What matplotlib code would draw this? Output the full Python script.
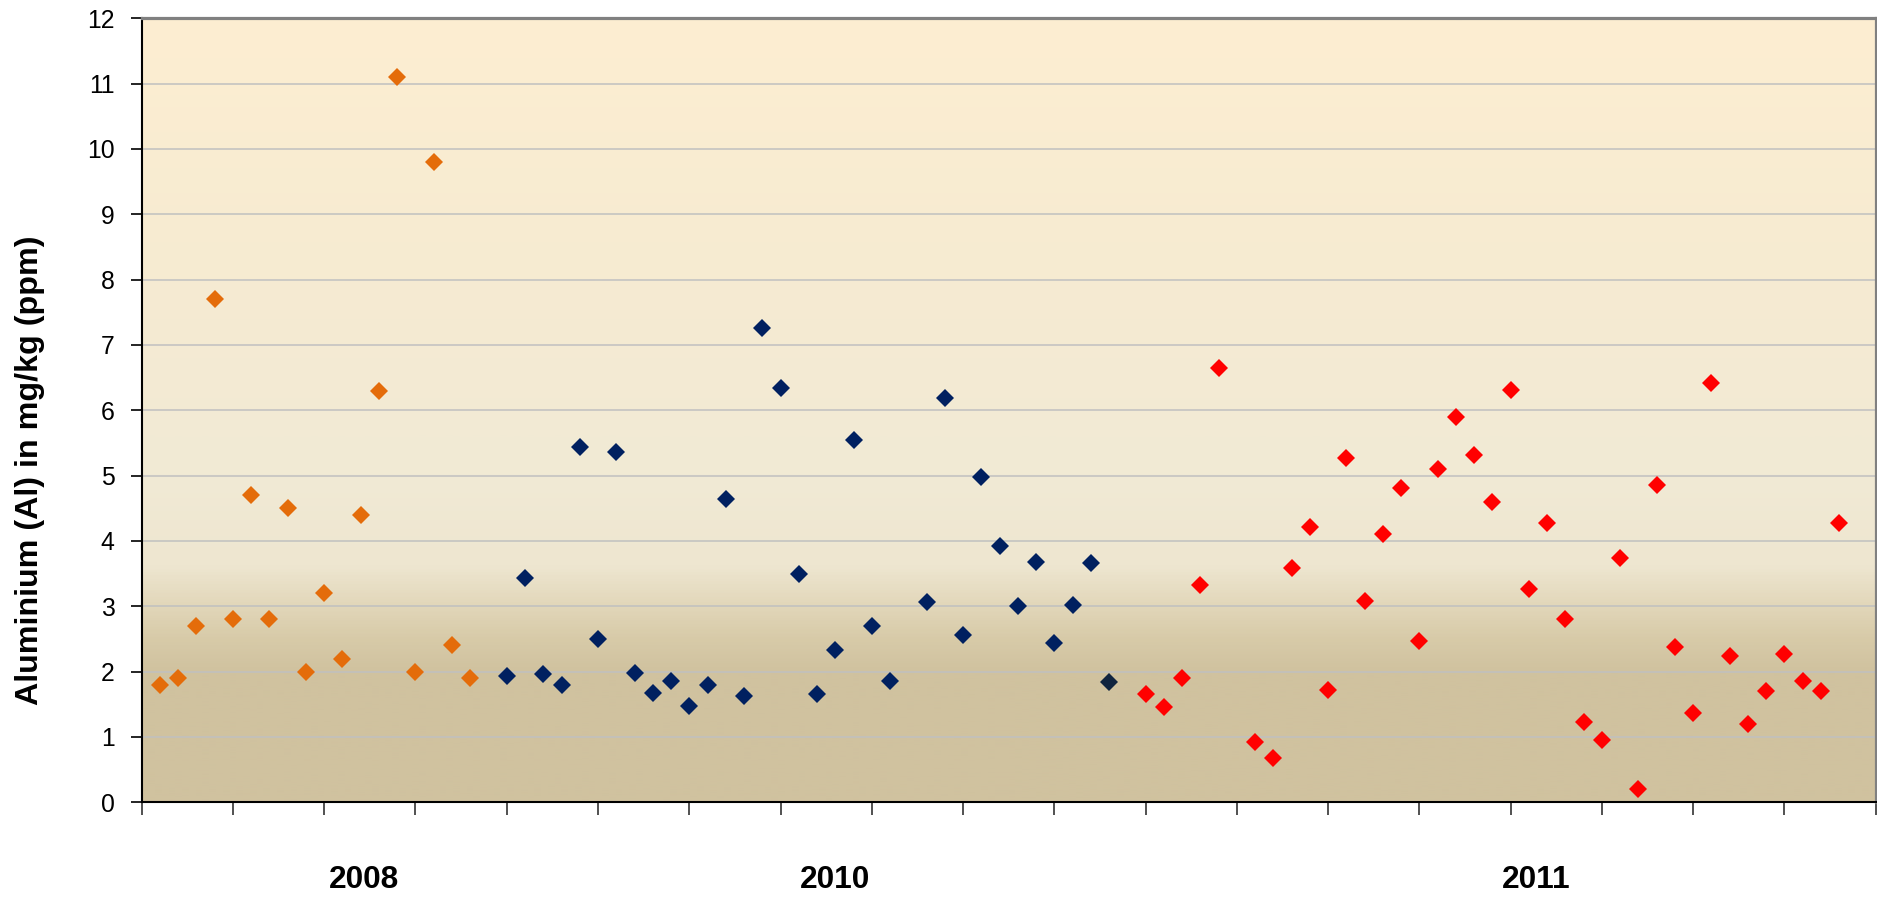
import numpy as np
import matplotlib
matplotlib.use("Agg")
import matplotlib.pyplot as plt
from matplotlib.colors import LinearSegmentedColormap
from matplotlib.transforms import blended_transform_factory

plt.rcParams['font.family'] = ['Liberation Sans', 'DejaVu Sans']

# ---- data ----
orange_samples = list(range(1, 19))
orange_values = [1.8, 1.9, 2.7, 7.7, 2.8, 4.7, 2.8, 4.5, 2.0, 3.2, 2.2, 4.4,
                 6.3, 11.1, 2.0, 9.8, 2.4, 1.9]

navy_samples = list(range(20, 42)) + list(range(43, 53))
navy_values = [1.94, 3.44, 1.96, 1.79, 5.44, 2.50, 5.36, 1.98, 1.67, 1.86, 1.48,
               1.80, 4.64, 1.62, 7.26, 6.34, 3.49, 1.65, 2.33, 5.55, 2.70, 1.85,
               3.07, 6.19, 2.56, 4.98, 3.92, 3.00, 3.68, 2.44, 3.02, 3.67]

dark_samples = [53]
dark_values = [1.84]

red_samples = list(range(55, 60)) + list(range(61, 94))
red_values = [1.65, 1.46, 1.90, 3.33, 6.64,
              0.93, 0.68, 3.59, 4.21, 1.72, 5.27, 3.08, 4.11, 4.81, 2.47, 5.10,
              5.90, 5.31, 4.59, 6.31, 3.27, 4.28, 2.80, 1.23, 0.95, 3.74, 0.20,
              4.85, 2.37, 1.37, 6.42, 2.24, 1.20, 1.71, 2.27, 1.86, 1.71, 4.27]

year_labels = ["2008", "2010", "2011"]
year_label_pos = [12.2, 38.0, 76.4]

y_ticks = list(range(0, 13))
x_ticks = list(range(0, 96, 5))

# ---- figure ----
fig = plt.figure(figsize=(18.77, 8.99), dpi=100)
ax = fig.add_axes([0.0755, 0.1076, 0.9238, 0.872])

# background gradient (keyed by y value)
stops = [(0.0, '#D0C29F'), (2.0 / 12, '#D0C29F'), (2.5 / 12, '#D8CBA9'),
         (3.0 / 12, '#E2D7BA'), (3.6 / 12, '#EEE6D0'), (5.0 / 12, '#F1EAD5'),
         (8.0 / 12, '#F6EBD2'), (1.0, '#FDEED1')]
cmap = LinearSegmentedColormap.from_list('bg', stops)
grad = np.linspace(0, 1, 600).reshape(-1, 1)
ax.imshow(grad, cmap=cmap, origin='lower', aspect='auto',
          extent=[0, 95, 0, 12], zorder=0, interpolation='bilinear')

ax.set_xlim(0, 95)
ax.set_ylim(0, 12)

for y in range(1, 12):
    ax.axhline(y, color='#C0C0C0', lw=1.1, zorder=1)

ms = 9.0
ax.plot(orange_samples, orange_values, 'D', color='#E46C0A', ms=ms, mew=0, zorder=3)
ax.plot(navy_samples, navy_values, 'D', color='#002060', ms=ms, mew=0, zorder=3)
ax.plot(dark_samples, dark_values, 'D', color='#10243F', ms=ms, mew=0, zorder=3)
ax.plot(red_samples, red_values, 'D', color='#FF0000', ms=ms, mew=0, zorder=3)

ax.set_yticks(y_ticks)
ax.set_yticklabels([str(v) for v in y_ticks], fontsize=17.8)
ax.set_xticks(x_ticks)
ax.set_xticklabels([])
ax.tick_params(axis='y', direction='out', length=8, width=1.2, pad=11.5, colors='black')
ax.tick_params(axis='x', direction='out', length=9, width=1.2, colors='#333333')

for s in ['left', 'bottom']:
    ax.spines[s].set_color('black')
    ax.spines[s].set_linewidth(1.5)
for s in ['top', 'right']:
    ax.spines[s].set_color('#808080')
    ax.spines[s].set_linewidth(2.3)

trans = blended_transform_factory(ax.transData, ax.transAxes)
for lab, xp in zip(year_labels, year_label_pos):
    ax.text(xp, -0.099, lab, transform=trans, ha='center', va='center',
            fontsize=22.8, fontweight='bold')

fig.text(30.5 / 1877, 1 - 470.5 / 899, 'Aluminium (Al) in mg/kg (ppm)',
         rotation=90, ha='center', va='center', fontsize=23.2, fontweight='bold')

fig.savefig('out.png', dpi=100)
